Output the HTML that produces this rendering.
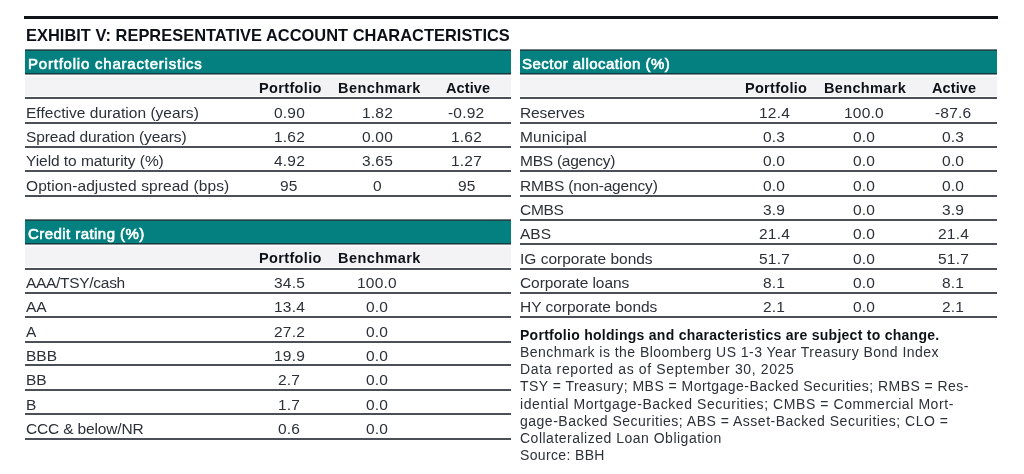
<!DOCTYPE html>
<html><head><meta charset="utf-8"><style>
html,body{margin:0;padding:0;background:#fff;}
body{width:1024px;height:474px;position:relative;overflow:hidden;font-family:"Liberation Sans",sans-serif;}
div{position:absolute;white-space:nowrap;line-height:20px;}
span{display:inline-block;will-change:transform;}
.rule{left:24px;top:16px;width:974px;height:3px;background:#101318;}
.t{font-size:16.4px;font-weight:bold;color:#0b0f17;}
.teal{background:#048080;}
.b{font-size:15px;font-weight:normal;-webkit-text-stroke:0.6px #fff;color:#fff;}
.gray{background:#f3f3f5;}
.h{font-size:14.5px;font-weight:bold;color:#0e1218;}
.n{font-size:15.5px;color:#2c3038;}
.nb{font-size:14px;font-weight:bold;color:#0e1218;}
.nn{font-size:14px;color:#2c3038;}
.num{font-size:15.5px;color:#2c3038;}
.c{width:200px;text-align:center;}
.ln{height:2px;background:#4b5058;}
</style></head>
<body>
<div class="rule"></div>
<div class="t" style="left:25.50px;top:24.82px;letter-spacing:0.030px"><span id="e0">EXHIBIT V: REPRESENTATIVE ACCOUNT CHARACTERISTICS</span></div>
<div class="teal" style="left:25px;top:49px;width:486.30px;height:26px"></div>
<div style="left:25px;top:49px;width:486.30px;height:1px;background:#6f7c7d"></div>
<div style="left:25px;top:50px;width:486.30px;height:1px;background:#1b4546"></div>
<div style="left:25px;top:73px;width:486.30px;height:1px;background:#0f3c3e"></div>
<div style="left:25px;top:74px;width:486.30px;height:1px;background:#8c9194"></div>
<div class="b" style="left:27.60px;top:54.26px;letter-spacing:0.781px"><span id="e1">Portfolio characteristics</span></div>
<div class="gray" style="left:25px;top:76px;width:486.30px;height:1px;background:#f9f9fa"></div>
<div class="gray" style="left:25px;top:77px;width:486.30px;height:19px"></div>
<div class="h c" style="left:190.00px;top:78.00px;letter-spacing:0.350px"><span id="e2">Portfolio</span></div>
<div class="h c" style="left:279.00px;top:78.00px;letter-spacing:0.420px"><span id="e3">Benchmark</span></div>
<div class="h c" style="left:368.20px;top:78.00px;letter-spacing:0.100px"><span id="e4">Active</span></div>
<div class="ln" style="left:25px;top:97px;width:486.30px"></div>
<div class="n" style="left:25.50px;top:102.51px;letter-spacing:0.032px"><span id="e5">Effective duration (years)</span></div>
<div class="num c" style="left:189.00px;top:102.51px;letter-spacing:0.200px"><span id="e6">0.90</span></div>
<div class="num c" style="left:277.30px;top:102.51px;letter-spacing:0.200px"><span id="e7">1.82</span></div>
<div class="num c" style="left:366.50px;top:102.51px;letter-spacing:0.200px"><span id="e8">-0.92</span></div>
<div class="ln" style="left:25px;top:122px;width:486.30px"></div>
<div class="n" style="left:25.50px;top:126.87px;letter-spacing:-0.101px"><span id="e9">Spread duration (years)</span></div>
<div class="num c" style="left:189.00px;top:126.87px;letter-spacing:0.200px"><span id="e10">1.62</span></div>
<div class="num c" style="left:277.30px;top:126.87px;letter-spacing:0.200px"><span id="e11">0.00</span></div>
<div class="num c" style="left:366.50px;top:126.87px;letter-spacing:0.200px"><span id="e12">1.62</span></div>
<div class="ln" style="left:25px;top:146px;width:486.30px"></div>
<div class="n" style="left:25.50px;top:151.23px;letter-spacing:-0.060px"><span id="e13">Yield to maturity (%)</span></div>
<div class="num c" style="left:189.00px;top:151.23px;letter-spacing:0.200px"><span id="e14">4.92</span></div>
<div class="num c" style="left:277.30px;top:151.23px;letter-spacing:0.200px"><span id="e15">3.65</span></div>
<div class="num c" style="left:366.50px;top:151.23px;letter-spacing:0.200px"><span id="e16">1.27</span></div>
<div class="ln" style="left:25px;top:170px;width:486.30px"></div>
<div class="n" style="left:25.50px;top:175.59px;letter-spacing:0.088px"><span id="e17">Option-adjusted spread (bps)</span></div>
<div class="num c" style="left:189.00px;top:175.59px;letter-spacing:0.200px"><span id="e18">95</span></div>
<div class="num c" style="left:277.30px;top:175.59px;letter-spacing:0.200px"><span id="e19">0</span></div>
<div class="num c" style="left:366.50px;top:175.59px;letter-spacing:0.200px"><span id="e20">95</span></div>
<div class="ln" style="left:25px;top:195px;width:486.30px"></div>
<div class="teal" style="left:25px;top:219px;width:486.30px;height:26px"></div>
<div style="left:25px;top:219px;width:486.30px;height:1px;background:#6f7c7d"></div>
<div style="left:25px;top:220px;width:486.30px;height:1px;background:#1b4546"></div>
<div style="left:25px;top:243px;width:486.30px;height:1px;background:#0f3c3e"></div>
<div style="left:25px;top:244px;width:486.30px;height:1px;background:#8c9194"></div>
<div class="b" style="left:27.60px;top:223.88px;letter-spacing:0.441px"><span id="e21">Credit rating (%)</span></div>
<div class="gray" style="left:25px;top:246px;width:486.30px;height:1px;background:#f9f9fa"></div>
<div class="gray" style="left:25px;top:247px;width:486.30px;height:20px"></div>
<div class="h c" style="left:190.00px;top:247.62px;letter-spacing:0.350px"><span id="e22">Portfolio</span></div>
<div class="h c" style="left:279.00px;top:247.62px;letter-spacing:0.420px"><span id="e23">Benchmark</span></div>
<div class="ln" style="left:25px;top:268px;width:486.30px"></div>
<div class="n" style="left:25.50px;top:273.03px;letter-spacing:-0.300px"><span id="e24">AAA/TSY/cash</span></div>
<div class="num c" style="left:189.00px;top:273.03px;letter-spacing:0.200px"><span id="e25">34.5</span></div>
<div class="num c" style="left:277.30px;top:273.03px;letter-spacing:0.200px"><span id="e26">100.0</span></div>
<div class="ln" style="left:25px;top:292px;width:486.30px"></div>
<div class="n" style="left:25.50px;top:297.39px;letter-spacing:0.000px"><span id="e27">AA</span></div>
<div class="num c" style="left:189.00px;top:297.39px;letter-spacing:0.200px"><span id="e28">13.4</span></div>
<div class="num c" style="left:277.30px;top:297.39px;letter-spacing:0.200px"><span id="e29">0.0</span></div>
<div class="ln" style="left:25px;top:316px;width:486.30px"></div>
<div class="n" style="left:25.50px;top:321.75px;letter-spacing:0.000px"><span id="e30">A</span></div>
<div class="num c" style="left:189.00px;top:321.75px;letter-spacing:0.200px"><span id="e31">27.2</span></div>
<div class="num c" style="left:277.30px;top:321.75px;letter-spacing:0.200px"><span id="e32">0.0</span></div>
<div class="ln" style="left:25px;top:341px;width:486.30px"></div>
<div class="n" style="left:25.50px;top:346.11px;letter-spacing:0.000px"><span id="e33">BBB</span></div>
<div class="num c" style="left:189.00px;top:346.11px;letter-spacing:0.200px"><span id="e34">19.9</span></div>
<div class="num c" style="left:277.30px;top:346.11px;letter-spacing:0.200px"><span id="e35">0.0</span></div>
<div class="ln" style="left:25px;top:364px;width:486.30px"></div>
<div class="n" style="left:25.50px;top:370.47px;letter-spacing:0.000px"><span id="e36">BB</span></div>
<div class="num c" style="left:189.00px;top:370.47px;letter-spacing:0.200px"><span id="e37">2.7</span></div>
<div class="num c" style="left:277.30px;top:370.47px;letter-spacing:0.200px"><span id="e38">0.0</span></div>
<div class="ln" style="left:25px;top:389px;width:486.30px"></div>
<div class="n" style="left:25.50px;top:394.83px;letter-spacing:0.000px"><span id="e39">B</span></div>
<div class="num c" style="left:189.00px;top:394.83px;letter-spacing:0.200px"><span id="e40">1.7</span></div>
<div class="num c" style="left:277.30px;top:394.83px;letter-spacing:0.200px"><span id="e41">0.0</span></div>
<div class="ln" style="left:25px;top:413px;width:486.30px"></div>
<div class="n" style="left:25.50px;top:419.19px;letter-spacing:-0.152px"><span id="e42">CCC &amp; below/NR</span></div>
<div class="num c" style="left:189.00px;top:419.19px;letter-spacing:0.200px"><span id="e43">0.6</span></div>
<div class="num c" style="left:277.30px;top:419.19px;letter-spacing:0.200px"><span id="e44">0.0</span></div>
<div class="ln" style="left:25px;top:438px;width:486.30px"></div>
<div class="teal" style="left:520.2px;top:49px;width:477.30px;height:26px"></div>
<div style="left:520.2px;top:49px;width:477.30px;height:1px;background:#6f7c7d"></div>
<div style="left:520.2px;top:50px;width:477.30px;height:1px;background:#1b4546"></div>
<div style="left:520.2px;top:73px;width:477.30px;height:1px;background:#0f3c3e"></div>
<div style="left:520.2px;top:74px;width:477.30px;height:1px;background:#8c9194"></div>
<div class="b" style="left:521.90px;top:54.26px;letter-spacing:0.470px"><span id="e45">Sector allocation (%)</span></div>
<div class="gray" style="left:520.2px;top:76px;width:477.30px;height:1px;background:#f9f9fa"></div>
<div class="gray" style="left:520.2px;top:77px;width:477.30px;height:19px"></div>
<div class="h c" style="left:676.10px;top:78.00px;letter-spacing:0.295px"><span id="e46">Portfolio</span></div>
<div class="h c" style="left:765.10px;top:78.00px;letter-spacing:0.350px"><span id="e47">Benchmark</span></div>
<div class="h c" style="left:854.50px;top:78.00px;letter-spacing:0.100px"><span id="e48">Active</span></div>
<div class="ln" style="left:520.2px;top:97px;width:477.30px"></div>
<div class="n" style="left:519.80px;top:102.51px;letter-spacing:-0.110px"><span id="e49">Reserves</span></div>
<div class="num c" style="left:674.50px;top:102.51px;letter-spacing:0.200px"><span id="e50">12.4</span></div>
<div class="num c" style="left:764.20px;top:102.51px;letter-spacing:0.200px"><span id="e51">100.0</span></div>
<div class="num c" style="left:853.50px;top:102.51px;letter-spacing:0.200px"><span id="e52">-87.6</span></div>
<div class="ln" style="left:520.2px;top:122px;width:477.30px"></div>
<div class="n" style="left:519.80px;top:126.87px;letter-spacing:0.163px"><span id="e53">Municipal</span></div>
<div class="num c" style="left:674.50px;top:126.87px;letter-spacing:0.200px"><span id="e54">0.3</span></div>
<div class="num c" style="left:764.20px;top:126.87px;letter-spacing:0.200px"><span id="e55">0.0</span></div>
<div class="num c" style="left:853.50px;top:126.87px;letter-spacing:0.200px"><span id="e56">0.3</span></div>
<div class="ln" style="left:520.2px;top:146px;width:477.30px"></div>
<div class="n" style="left:519.80px;top:151.23px;letter-spacing:-0.248px"><span id="e57">MBS (agency)</span></div>
<div class="num c" style="left:674.50px;top:151.23px;letter-spacing:0.200px"><span id="e58">0.0</span></div>
<div class="num c" style="left:764.20px;top:151.23px;letter-spacing:0.200px"><span id="e59">0.0</span></div>
<div class="num c" style="left:853.50px;top:151.23px;letter-spacing:0.200px"><span id="e60">0.0</span></div>
<div class="ln" style="left:520.2px;top:170px;width:477.30px"></div>
<div class="n" style="left:519.80px;top:175.59px;letter-spacing:-0.162px"><span id="e61">RMBS (non-agency)</span></div>
<div class="num c" style="left:674.50px;top:175.59px;letter-spacing:0.200px"><span id="e62">0.0</span></div>
<div class="num c" style="left:764.20px;top:175.59px;letter-spacing:0.200px"><span id="e63">0.0</span></div>
<div class="num c" style="left:853.50px;top:175.59px;letter-spacing:0.200px"><span id="e64">0.0</span></div>
<div class="ln" style="left:520.2px;top:195px;width:477.30px"></div>
<div class="n" style="left:519.80px;top:199.95px;letter-spacing:-0.300px"><span id="e65">CMBS</span></div>
<div class="num c" style="left:674.50px;top:199.95px;letter-spacing:0.200px"><span id="e66">3.9</span></div>
<div class="num c" style="left:764.20px;top:199.95px;letter-spacing:0.200px"><span id="e67">0.0</span></div>
<div class="num c" style="left:853.50px;top:199.95px;letter-spacing:0.200px"><span id="e68">3.9</span></div>
<div class="ln" style="left:520.2px;top:219px;width:477.30px"></div>
<div class="n" style="left:519.80px;top:224.31px;letter-spacing:0.000px"><span id="e69">ABS</span></div>
<div class="num c" style="left:674.50px;top:224.31px;letter-spacing:0.200px"><span id="e70">21.4</span></div>
<div class="num c" style="left:764.20px;top:224.31px;letter-spacing:0.200px"><span id="e71">0.0</span></div>
<div class="num c" style="left:853.50px;top:224.31px;letter-spacing:0.200px"><span id="e72">21.4</span></div>
<div class="ln" style="left:520.2px;top:243px;width:477.30px"></div>
<div class="n" style="left:519.80px;top:248.67px;letter-spacing:-0.004px"><span id="e73">IG corporate bonds</span></div>
<div class="num c" style="left:674.50px;top:248.67px;letter-spacing:0.200px"><span id="e74">51.7</span></div>
<div class="num c" style="left:764.20px;top:248.67px;letter-spacing:0.200px"><span id="e75">0.0</span></div>
<div class="num c" style="left:853.50px;top:248.67px;letter-spacing:0.200px"><span id="e76">51.7</span></div>
<div class="ln" style="left:520.2px;top:268px;width:477.30px"></div>
<div class="n" style="left:519.80px;top:273.03px;letter-spacing:-0.076px"><span id="e77">Corporate loans</span></div>
<div class="num c" style="left:674.50px;top:273.03px;letter-spacing:0.200px"><span id="e78">8.1</span></div>
<div class="num c" style="left:764.20px;top:273.03px;letter-spacing:0.200px"><span id="e79">0.0</span></div>
<div class="num c" style="left:853.50px;top:273.03px;letter-spacing:0.200px"><span id="e80">8.1</span></div>
<div class="ln" style="left:520.2px;top:292px;width:477.30px"></div>
<div class="n" style="left:519.80px;top:297.39px;letter-spacing:-0.013px"><span id="e81">HY corporate bonds</span></div>
<div class="num c" style="left:674.50px;top:297.39px;letter-spacing:0.200px"><span id="e82">2.1</span></div>
<div class="num c" style="left:764.20px;top:297.39px;letter-spacing:0.200px"><span id="e83">0.0</span></div>
<div class="num c" style="left:853.50px;top:297.39px;letter-spacing:0.200px"><span id="e84">2.1</span></div>
<div class="ln" style="left:520.2px;top:316px;width:477.30px"></div>
<div class="nb" style="left:520.20px;top:325.15px;letter-spacing:0.270px"><span id="e85">Portfolio holdings and characteristics are subject to change.</span></div>
<div class="nn" style="left:520.20px;top:341.65px;letter-spacing:0.462px"><span id="e86">Benchmark is the Bloomberg US 1-3 Year Treasury Bond Index</span></div>
<div class="nn" style="left:520.20px;top:358.95px;letter-spacing:0.627px"><span id="e87">Data reported as of September 30, 2025</span></div>
<div class="nn" style="left:520.20px;top:376.25px;letter-spacing:0.457px"><span id="e88">TSY = Treasury; MBS = Mortgage-Backed Securities; RMBS = Res-</span></div>
<div class="nn" style="left:520.20px;top:393.55px;letter-spacing:0.573px"><span id="e89">idential Mortgage-Backed Securities; CMBS = Commercial Mort-</span></div>
<div class="nn" style="left:520.20px;top:410.85px;letter-spacing:0.499px"><span id="e90">gage-Backed Securities; ABS = Asset-Backed Securities; CLO =</span></div>
<div class="nn" style="left:520.20px;top:428.15px;letter-spacing:0.498px"><span id="e91">Collateralized Loan Obligation</span></div>
<div class="nn" style="left:520.20px;top:445.45px;letter-spacing:0.350px"><span id="e92">Source: BBH</span></div>
</body></html>
